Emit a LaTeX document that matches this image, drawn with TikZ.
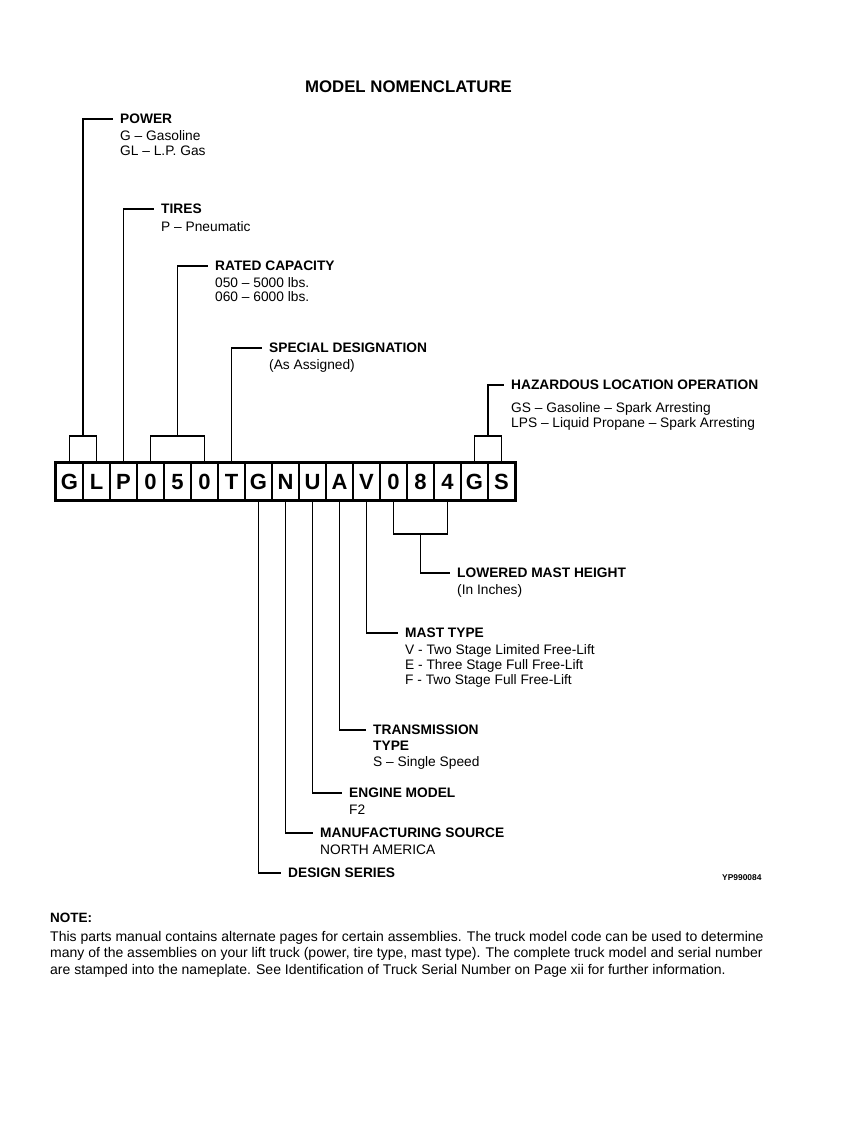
\documentclass[tikz,border=0pt]{standalone}
\usepackage{fontspec}
\setmainfont{Liberation Sans}
\usetikzlibrary{calc}
\begin{document}
\begin{tikzpicture}[x=1pt,y=-1pt,
  cell/.style={draw, line width=1.9pt, minimum width=27pt, minimum height=37pt, inner sep=0pt,
    text height=15.8pt, text depth=0pt,
    font=\fontsize{22}{22}\selectfont\bfseries},
  frame/.style={line width=2.6pt},
  conn/.style={line width=1.8pt},
  head/.style={anchor=west, inner sep=0pt, font=\fontsize{13.75}{15}\selectfont\bfseries},
  body/.style={anchor=base west, inner sep=0pt, font=\fontsize{13.75}{15}\selectfont},
  bodyb/.style={anchor=base west, inner sep=0pt, font=\fontsize{13.75}{15}\selectfont\bfseries},
  notetxt/.style={anchor=base west, inner sep=0pt, font=\fontsize{14}{15}\selectfont},
]
\useasboundingbox[fill=white] (0,0) rectangle (866,1122);

% title
\node[anchor=base, inner sep=0pt, font=\fontsize{16.8}{18}\selectfont\bfseries] (title) at (408.5,92) {MODEL NOMENCLATURE};

% code cells
\foreach \l [count=\i] in {G,L,P,0,5,0,T,G,N,U,A,V,0,8,4,G,S}
  \node[cell] (c\i) at ({56+27*(\i-0.5)},481.5) {\l};
\draw[frame] (c1.north west) rectangle (c17.south east);

% headings and texts
\node[head] (power) at (120,119) {POWER};
\node[body] (power1) at (120,140) {G – Gasoline};
\node[body] (power2) at (120,155) {GL – L.P. Gas};

\node[head] (tires) at (161,209) {TIRES};
\node[body] (tires1) at (161,231) {P – Pneumatic};

\node[head] (rated) at (215,266) {RATED CAPACITY};
\node[body] (rated1) at (215,287) {050 – 5000 lbs.};
\node[body] (rated2) at (215,301) {060 – 6000 lbs.};

\node[head] (special) at (269,348) {SPECIAL DESIGNATION};
\node[body] (special1) at (269,369) {(As Assigned)};

\node[head] (haz) at (511,385) {HAZARDOUS LOCATION OPERATION};
\node[body] (haz1) at (511,412) {GS – Gasoline – Spark Arresting};
\node[body] (haz2) at (511,427) {LPS – Liquid Propane – Spark Arresting};

\node[head] (lowered) at (457,573) {LOWERED MAST HEIGHT};
\node[body] (lowered1) at (457,594) {(In Inches)};

\node[head] (mast) at (405,633) {MAST TYPE};
\node[body] (mast1) at (405,654) {V - Two Stage Limited Free-Lift};
\node[body] (mast2) at (405,669) {E - Three Stage Full Free-Lift};
\node[body] (mast3) at (405,684) {F - Two Stage Full Free-Lift};

\node[head] (trans) at (373,730) {TRANSMISSION};
\node[bodyb] (trans1) at (373,750) {TYPE};
\node[body] (trans2) at (373,766) {S – Single Speed};

\node[head] (engine) at (349,793) {ENGINE MODEL};
\node[body] (engine1) at (349,814) {F2};

\node[head] (manuf) at (320,833) {MANUFACTURING SOURCE};
\node[body] (manuf1) at (320,854) {NORTH AMERICA};

\node[head] (design) at (288,873) {DESIGN SERIES};

\node[anchor=base west, inner sep=0pt, font=\fontsize{8.4}{9}\selectfont\bfseries] (yp) at (722,880) {YP990084};

% connectors above
\coordinate (pw) at ($(c1.north)!0.5!(c2.north)+(0,-26)$);
\draw[conn] (c1.north) |- (pw) -| (c2.north);
\draw[conn] (pw) |- ([xshift=-7pt]power.west);

\draw[conn] (c3.north) |- ([xshift=-7pt]tires.west);

\coordinate (rc) at ($(c5.north)+(0,-26)$);
\draw[conn] (c4.north) |- (rc) -| (c6.north);
\draw[conn] (rc) |- ([xshift=-7pt]rated.west);

\draw[conn] (c7.north) |- ([xshift=-7pt]special.west);

\coordinate (hz) at ($(c16.north)!0.5!(c17.north)+(0,-26)$);
\draw[conn] (c16.north) |- (hz) -| (c17.north);
\draw[conn] (hz) |- ([xshift=-7pt]haz.west);

% connectors below
\coordinate (lw) at ($(c14.south)+(0,33)$);
\draw[conn] (c13.south) |- (lw) -| (c15.south);
\draw[conn] (lw) |- ([xshift=-7pt]lowered.west);

\draw[conn] (c12.south) |- ([xshift=-7pt]mast.west);
\draw[conn] (c11.south) |- ([xshift=-7pt]trans.west);
\draw[conn] (c10.south) |- ([xshift=-7pt]engine.west);
\draw[conn] (c9.south) |- ([xshift=-7pt]manuf.west);
\draw[conn] (c8.south) |- ([xshift=-7pt]design.west);

% note
\node[anchor=base west, inner sep=0pt, font=\fontsize{13.5}{15}\selectfont\bfseries] (note) at (50,922) {NOTE:};
\node[notetxt] (note1) at (50,941) {This parts manual contains alternate pages for certain assemblies. The truck model code can be used to determine};
\node[notetxt] (note2) at (50,957) {many of the assemblies on your lift truck (power, tire type, mast type). The complete truck model and serial number};
\node[notetxt] (note3) at (50,974) {are stamped into the nameplate. See Identification of Truck Serial Number on Page xii for further information.};
\end{tikzpicture}
\end{document}
